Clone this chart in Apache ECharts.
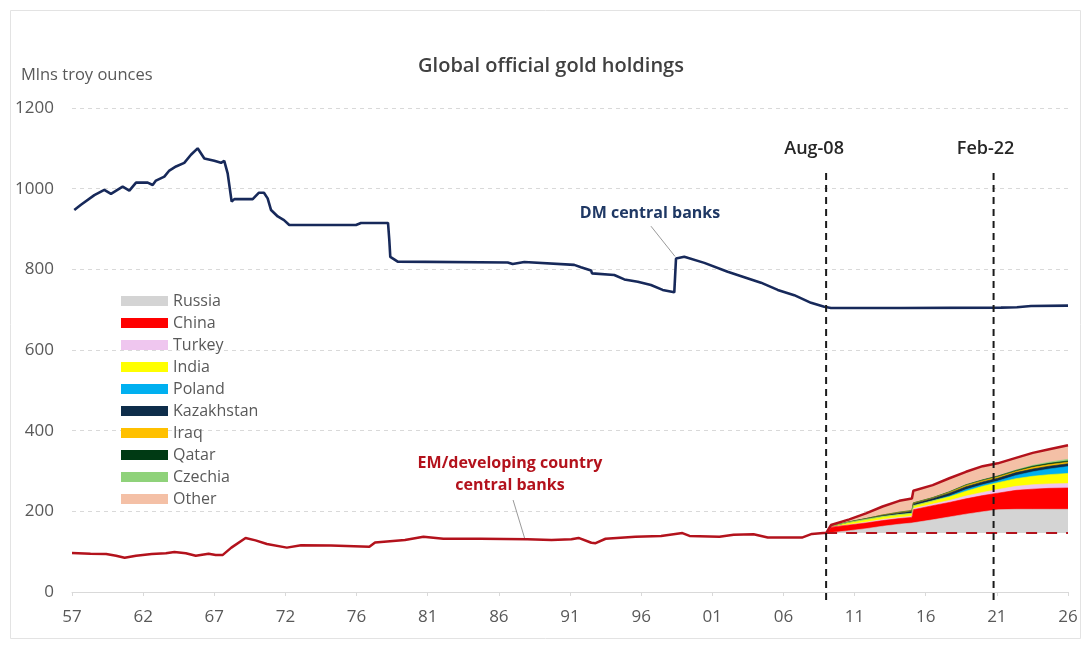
<!DOCTYPE html>
<html>
<head>
<meta charset="utf-8">
<title>Global official gold holdings</title>
<script src="https://cdn.jsdelivr.net/npm/echarts@6/dist/echarts.min.js"></script>
<style>
  html, body { margin: 0; padding: 0; background: #ffffff; }
  #chart { width: 1084px; height: 665px; }
</style>
</head>
<body>
<div id="chart"></div>
<script>
// X axis: decimal years, one labelled tick every five years
const X_MIN = 1957;
const X_MAX = 2027;
const X_STEP = 5;
const TICK_LABELS = ['57', '62', '67', '72', '76', '81', '86', '91', '96', '01', '06', '11', '16', '21', '26'];

// Developed-market central banks, mlns troy ounces
const DM_YEARS = [1957.16, 1957.63, 1958.57, 1959.27, 1959.74, 1960.56, 1961.03, 1961.50, 1962.32, 1962.67,
  1962.90, 1963.49, 1963.84, 1964.31, 1964.89, 1965.36, 1965.83, 1966.30, 1967.00, 1967.47,
  1967.70, 1967.94, 1968.22, 1968.41, 1969.70, 1970.14, 1970.49, 1970.75, 1970.99, 1971.46,
  1971.90, 1972.27, 1976.96, 1977.31, 1979.21, 1979.30, 1979.37, 1979.89, 1987.62, 1987.97,
  1988.79, 1992.30, 1992.77, 1993.48, 1993.55, 1995.11, 1995.82, 1996.76, 1997.69, 1998.51,
  1999.33, 1999.45, 2000.03, 2001.44, 2003.08, 2005.42, 2006.60, 2007.76, 2008.94, 2009.87,
  2010.34, 2015.26, 2022.29, 2023.41, 2024.40, 2027.0];
const DM_VALUES = [947, 960, 984, 997, 987, 1005, 995, 1015, 1015, 1009,
  1020, 1030, 1045, 1055, 1064, 1084, 1100, 1075, 1069, 1064,
  1069, 1038, 968, 974, 974, 990, 990, 976, 947, 931,
  922, 910, 910, 915, 915, 873, 831, 819, 817, 813,
  818, 811, 805, 797, 790, 786, 775, 769, 761, 749,
  743, 827, 831, 816, 794, 767, 749, 736, 717, 707,
  704, 704, 705, 706, 709, 710];

// EM / developing-country central banks before the Aug-08 split
const EM_YEARS = [1957.0, 1958.3, 1959.4, 1960.1, 1960.7, 1961.5, 1962.6, 1963.6, 1964.2, 1965.0,
  1965.7, 1966.6, 1967.1, 1967.6, 1968.2, 1969.2, 1969.9, 1970.7, 1972.1, 1973.1,
  1975.2, 1977.9, 1978.3, 1980.4, 1981.7, 1983.1, 1985.7, 1989.0, 1990.7, 1992.1,
  1992.6, 1993.5, 1993.8, 1994.5, 1996.6, 1998.4, 1999.9, 2000.4, 2002.5, 2003.5,
  2004.9, 2005.9, 2008.3, 2009.0, 2009.8];
const EM_VALUES = [97, 95, 94, 90, 85, 90, 94, 96, 99, 96,
  90, 95, 92, 92, 110, 134, 128, 119, 110, 116,
  115, 112, 123, 129, 137, 132, 132, 131, 129, 131,
  134, 122, 121, 132, 137, 139, 146, 139, 137, 142,
  143, 135, 135, 144, 146];

// EM holdings at Aug-08; purchases since then are layered on top of it
const EM_BASE_AUG08 = 146;
const STACK_YEARS = [2010.0, 2010.34, 2011.63, 2012.80, 2013.97, 2015.14, 2016.03, 2016.13, 2017.49,
  2018.66, 2019.83, 2021.0, 2022.06, 2023.34, 2024.52, 2025.68, 2027.0];
const RUSSIA     = [0, 1, 6, 11, 17, 22, 25, 25, 33, 40, 47, 53, 58, 59, 59, 59, 59];
const CHINA      = [0, 14, 14, 14, 14, 14, 14, 33, 35, 36, 38, 40, 41, 47, 50, 52, 53];
const TURKEY     = [0, 0, 1, 2, 3, 3, 3, 3, 4, 5, 7, 8, 9, 10, 11, 11, 11];
const INDIA      = [0, 2, 6, 7, 7, 7, 7, 7, 8, 9, 12, 15, 17, 19, 21, 23, 25];
const POLAND     = [0, 0, 0, 0, 0, 0, 0, 0, 0, 2, 4, 4, 4, 8, 11, 14, 17];
const KAZAKHSTAN = [0, 0, 1, 2, 3, 4, 5, 5, 6, 7, 7, 7, 7, 7, 7, 7, 7];
const IRAQ       = [0, 0, 0, 0, 1, 1, 1, 1, 1, 2, 3, 3, 3, 3, 4, 4, 4];
const QATAR      = [0, 0, 0, 0, 0, 1, 1, 1, 1, 1.5, 2, 2, 2.5, 2.5, 3, 3, 3];
const CZECHIA    = [0, 0, 0, 0, 0, 0, 0, 0, 0, 0, 0, 0, 0, 1, 2, 3, 4];
const OTHER      = [0, 3, 6, 13, 21, 28, 30, 30, 31, 33.5, 32, 34, 31.5, 30, 31, 32, 35];

const COUNTRY_NAMES = ['Russia', 'China', 'Turkey', 'India', 'Poland', 'Kazakhstan', 'Iraq', 'Qatar', 'Czechia', 'Other'];
const COUNTRY_VALUES = [RUSSIA, CHINA, TURKEY, INDIA, POLAND, KAZAKHSTAN, IRAQ, QATAR, CZECHIA, OTHER];
const COUNTRY_COLORS = ['#d4d4d4', '#ff0000', '#efc6ef', '#ffff00', '#00b0f0', '#0e2d4a', '#ffc000', '#003a14', '#8fd27a', '#f4c0a6'];

// Event markers
const EVENT_NAMES = ['Aug-08', 'Feb-22'];
const EVENT_YEARS = [2010.0, 2021.77];
const EVENT_TOP = 1051;
const EVENT_BOTTOM = -20;

const FONT = '"Open Sans", "Noto Sans", sans-serif';
const TEXT_GREY = '#595959';
const DM_COLOR = '#17295a';
const EM_COLOR = '#b3121c';

const pairs = (xs, ys) => xs.map((x, i) => [x, ys[i]]);

// Running top of each country layer: Aug-08 base plus that country and all below it
const layerTops = [];
COUNTRY_VALUES.forEach((arr, k) => {
  layerTops.push(STACK_YEARS.map((x, i) =>
    (k === 0 ? EM_BASE_AUG08 : layerTops[k - 1][i]) + arr[i]));
});

// EM total line: history, then the top of the last layer
const emLine = pairs(EM_YEARS, EM_VALUES).concat(pairs(STACK_YEARS, layerTops[layerTops.length - 1]));

const series = [];

// Widest layer first, so each lower layer paints over the one above it
for (let k = COUNTRY_NAMES.length - 1; k >= 0; k--) {
  series.push({
    name: COUNTRY_NAMES[k],
    type: 'line',
    data: pairs(STACK_YEARS, layerTops[k]),
    showSymbol: false,
    silent: true,
    itemStyle: { color: COUNTRY_COLORS[k] },
    lineStyle: { width: 0.6, color: COUNTRY_COLORS[k] },
    areaStyle: { color: COUNTRY_COLORS[k], opacity: 1, origin: EM_BASE_AUG08 },
    z: 2
  });
}

// Aug-08 level of EM holdings
series.push({
  type: 'line',
  data: [[EVENT_YEARS[0], EM_BASE_AUG08], [X_MAX, EM_BASE_AUG08]],
  showSymbol: false,
  silent: true,
  lineStyle: { color: EM_COLOR, width: 2, type: [11, 9] },
  z: 3
});

series.push({
  name: 'EM/developing country central banks',
  type: 'line',
  data: emLine,
  showSymbol: false,
  silent: true,
  lineStyle: { color: EM_COLOR, width: 2.5 },
  z: 5,
  markLine: {
    silent: true,
    symbol: 'none',
    label: { show: false },
    lineStyle: { color: '#9a9a9a', width: 1, type: 'solid' },
    data: [[{ coord: [1988.0, 228] }, { coord: [1988.84, 130] }]]
  }
});

series.push({
  name: 'DM central banks',
  type: 'line',
  data: pairs(DM_YEARS, DM_VALUES),
  showSymbol: false,
  silent: true,
  lineStyle: { color: DM_COLOR, width: 2.6 },
  z: 5,
  markLine: {
    silent: true,
    symbol: 'none',
    label: { show: false },
    lineStyle: { color: '#9a9a9a', width: 1, type: 'solid' },
    data: [[{ coord: [1997.69, 907] }, { coord: [1999.38, 832] }]]
  }
});

// vertical dashed event lines with their date labels
EVENT_YEARS.forEach((x, i) => {
  series.push({
    type: 'line',
    data: [[x, EVENT_BOTTOM], [x, EVENT_TOP]],
    showSymbol: false,
    silent: true,
    clip: false,
    lineStyle: { color: '#1a1a1a', width: 2, type: [7, 5] },
    z: 6,
    markPoint: {
      silent: true,
      symbol: 'circle',
      symbolSize: 0,
      label: {
        show: true,
        position: 'top',
        distance: 10,
        offset: [i === 0 ? -12 : -8, 0],
        formatter: EVENT_NAMES[i],
        color: '#262626',
        fontSize: 18,
        fontWeight: 600,
        fontFamily: FONT
      },
      data: [{ coord: [x, EVENT_TOP] }]
    }
  });
});

const chart = echarts.init(document.getElementById('chart'), null, { renderer: 'canvas' });

chart.setOption({
  backgroundColor: '#ffffff',
  animation: false,
  legend: {
    data: COUNTRY_NAMES,
    orient: 'vertical',
    left: 116,
    top: 288,
    icon: 'rect',
    itemWidth: 47,
    itemHeight: 10,
    itemGap: 6,
    textStyle: { color: TEXT_GREY, fontSize: 16, fontFamily: FONT },
    selectedMode: false
  },
  grid: { left: 72, right: 16, top: 108, bottom: 73, containLabel: false },
  xAxis: {
    type: 'value',
    min: X_MIN,
    max: X_MAX,
    interval: X_STEP,
    axisLine: { show: true, lineStyle: { color: '#d9d9d9', width: 1 } },
    axisTick: { show: true, length: 4, lineStyle: { color: '#d9d9d9' } },
    splitLine: { show: false },
    axisLabel: {
      margin: 17,
      color: TEXT_GREY,
      fontSize: 17,
      fontFamily: FONT,
      formatter: v => {
        const k = Math.round((v - X_MIN) / X_STEP);
        return TICK_LABELS[k] !== undefined ? TICK_LABELS[k] : '';
      }
    }
  },
  yAxis: {
    type: 'value',
    min: 0,
    max: 1200,
    interval: 200,
    axisLine: { show: false },
    axisTick: { show: false },
    splitLine: { show: true, lineStyle: { color: '#d9d9d9', type: [4, 4], width: 1 } },
    axisLabel: { margin: 18, color: TEXT_GREY, fontSize: 17, fontFamily: FONT, formatter: v => String(v) }
  },
  graphic: [
    {
      type: 'rect',
      shape: { x: 10.5, y: 10.5, width: 1070, height: 628 },
      style: { fill: 'none', stroke: '#e3e3e3', lineWidth: 1 },
      silent: true,
      z: -10
    },
    {
      type: 'text',
      x: 551,
      y: 66,
      style: {
        text: 'Global official gold holdings',
        fill: '#404040',
        font: '600 20px ' + FONT,
        textAlign: 'center',
        textVerticalAlign: 'middle'
      },
      silent: true
    },
    {
      type: 'text',
      x: 21,
      y: 75,
      style: {
        text: 'Mlns troy ounces',
        fill: TEXT_GREY,
        font: '16.5px ' + FONT,
        textAlign: 'left',
        textVerticalAlign: 'middle'
      },
      silent: true
    },
    {
      type: 'text',
      x: 650,
      y: 213,
      style: {
        text: 'DM central banks',
        fill: '#1f3864',
        font: 'bold 16px ' + FONT,
        textAlign: 'center',
        textVerticalAlign: 'middle'
      },
      silent: true
    },
    {
      type: 'text',
      x: 510,
      y: 474,
      style: {
        text: 'EM/developing country\ncentral banks',
        fill: '#b3121c',
        font: 'bold 16px ' + FONT,
        textAlign: 'center',
        textVerticalAlign: 'middle',
        lineHeight: 22
      },
      silent: true
    }
  ],
  series: series
});
</script>
</body>
</html>
